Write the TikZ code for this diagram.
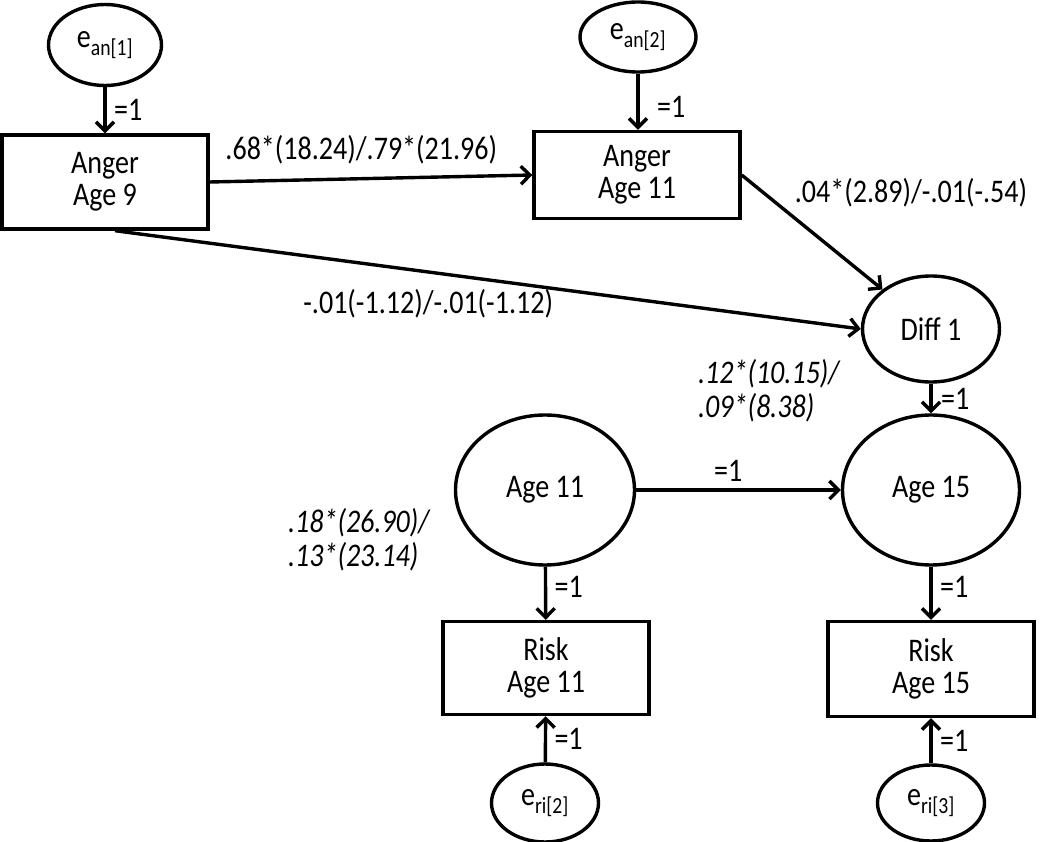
\documentclass[tikz,border=0pt]{standalone}
\usepackage{fontspec}
\setmainfont{Carlito}[FakeStretch=0.85]
\usetikzlibrary{shapes.geometric,arrows.meta}
\begin{document}
\begin{tikzpicture}[x=1pt, y=-1pt, line width=3.4pt, >={Straight Barb[length=9pt,width=18pt]},
    font=\fontsize{33}{32}\selectfont,
    box/.style={draw, rectangle, align=center, inner sep=0, minimum width=206pt},
    latent/.style={draw, ellipse, align=center, inner sep=0},
    coef/.style={font=\fontsize{33}{34}\selectfont\itshape, align=left, anchor=west}]
    \useasboundingbox (0,0) rectangle (1050,842);
    \node[latent, minimum width=113pt, minimum height=81pt] (ean1) at (105,45) {e\textsubscript{an[1]}};
    \node[box, minimum height=94pt] (anger9) at (105,182) {Anger\\Age 9};
    \node[latent, minimum width=116pt, minimum height=70pt] (ean2) at (638,37) {e\textsubscript{an[2]}};
    \node[box, minimum height=87pt] (anger11) at (637,175) {Anger\\Age 11};
    \node[latent, minimum width=137pt, minimum height=106pt] (diff1) at (931,329) {Diff 1};
    \node[latent, minimum width=179pt, minimum height=150pt] (age11) at (545,490) {Age 11};
    \node[latent, minimum width=177pt, minimum height=150pt] (age15) at (931,490) {Age 15};
    \node[box, minimum height=93pt] (risk11) at (546,668) {Risk\\Age 11};
    \node[box, minimum height=95pt] (risk15) at (931,669) {Risk\\Age 15};
    \node[latent, minimum width=107pt, minimum height=78pt] (eri2) at (545,803) {e\textsubscript{ri[2]}};
    \node[latent, minimum width=107pt, minimum height=76pt] (eri3) at (931,803) {e\textsubscript{ri[3]}};
    \node[coef] (mean1) at (693,391) {.12*(10.15)/\\.09*(8.38)};
    \node[coef] (mean2) at (283,540) {.18*(26.90)/\\.13*(23.14)};
    \draw[->] (ean1) -- (anger9) node[midway, right, xshift=4pt] {=1};
    \draw[->] (ean2) -- (ean2 |- anger11.north) node[pos=0.6, right, xshift=14pt] {=1};
    \draw[->] (anger9.east) -- (anger11.west) node[pos=0.47, above=10pt] {.68*(18.24)/.79*(21.96)};
    \draw[->] ([xshift=10pt]anger9.south) -- (diff1.west) node[pos=0.42, below=12pt] {-.01(-1.12)/-.01(-1.12)};
    \draw[->] (anger11.east) -- (diff1) node[pos=0.25, anchor=west, xshift=13pt, yshift=11pt] {.04*(2.89)/-.01(-.54)};
    \draw[->] (diff1) -- (age15) node[midway, right, xshift=5pt] {=1};
    \draw[->] (age11) -- (age15) node[pos=0.45, above=3pt] {=1};
    \draw[->] (age11) -- (risk11) node[midway, right, xshift=4pt, yshift=6pt] {=1};
    \draw[->] (age15) -- (risk15) node[midway, right, xshift=4pt, yshift=6pt] {=1};
    \draw[->] (eri2) -- (risk11) node[midway, right, xshift=4pt] {=1};
    \draw[->] (eri3) -- (risk15) node[midway, right, xshift=4pt] {=1};
\end{tikzpicture}
\end{document}
